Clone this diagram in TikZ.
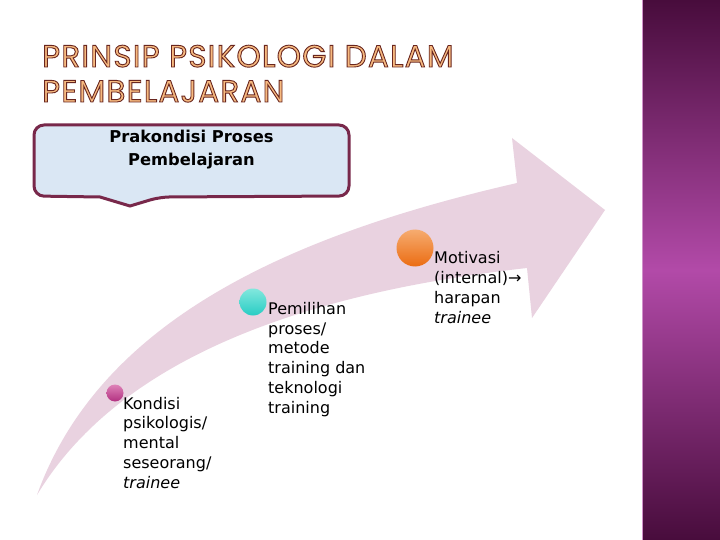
\documentclass[tikz,border=0pt]{standalone}
\usepackage{fontspec}
\setmainfont{DejaVu Sans}
\newfontfamily\titlefont[LetterSpace=4]{Poppins}
\definecolor{band}{RGB}{233,210,224}
\definecolor{boxedge}{RGB}{120,40,74}
\definecolor{boxfill}{RGB}{218,231,244}
\definecolor{titlefill}{RGB}{247,186,128}
\definecolor{paneldark}{RGB}{72,12,60}
\definecolor{panelmid}{RGB}{178,74,168}
\newcommand{\outlinedtext}[1]{\special{pdf:literal direct 0.41 0.15 0.12 RG 0.9 w 2 Tr}#1\special{pdf:literal direct 0 Tr}}
\tikzset{
  bodytext/.style={inner sep=0pt, anchor=base west, align=left,
    font=\fontsize{16}{19.7}\selectfont},
  titletext/.style={inner sep=0pt, anchor=base west, text=titlefill,
    font=\titlefont\fontsize{31}{36}\selectfont},
  dot/.style={circle, inner sep=0pt},
}
\begin{document}
\begin{tikzpicture}[x=1pt,y=-1pt]
\path[use as bounding box, fill=white] (0,0) rectangle (720,540);
% right panel
\shade[top color=paneldark, bottom color=paneldark, middle color=panelmid] (642,0) rectangle (720,540);
\draw[panelmid!60!white, line width=0.6pt] (642.5,0) -- (642.5,540);
% title
\node[titletext] (title1) at (42,67) {\outlinedtext{PRINSIP PSIKOLOGI DALAM}};
\node[titletext] (title2) at (42,102) {\outlinedtext{PEMBELAJARAN}};
% curved arrow
\fill[band] (37,495) .. controls (100,320) and (290,235) .. (517,183)
  -- (512,138) -- (605,210) -- (532,318) -- (527,268)
  .. controls (240,300) and (100,390) .. (37,495) -- cycle;
% callout box
\draw[boxedge, fill=boxfill, line width=3pt, rounded corners=10pt]
  (34,160) -- (34,125) -- (349,125) -- (349,196) -- (160,197)
  [sharp corners] -- (130,206) -- (100,197) [rounded corners=10pt] -- (34,196) -- cycle;
\node[inner sep=0pt, align=center, font=\bfseries\fontsize{16.3}{23}\selectfont, anchor=base]
  (box) at (191.5,166) {Prakondisi Proses\\Pembelajaran};
% dots
\shade[top color={rgb,255:red,222;green,130;blue,184}, bottom color={rgb,255:red,178;green,48;blue,128}]
  (115,393) circle (8.5);
\node[dot, minimum size=17pt] (c1) at (115,393) {};
\shade[top color={rgb,255:red,130;green,232;blue,222}, bottom color={rgb,255:red,40;green,205;blue,195}]
  (253,302) circle (13.5);
\node[dot, minimum size=27pt] (c2) at (253,302) {};
\shade[top color={rgb,255:red,246;green,172;blue,112}, bottom color={rgb,255:red,235;green,108;blue,18}]
  (415,248) circle (18.5);
\node[dot, minimum size=37pt] (c3) at (415,248) {};
% texts
\node[bodytext] (t1) at (123,488) {Kondisi\\psikologis/\\mental\\seseorang/\\\textit{trainee}};
\node[bodytext] (t2) at (268,413) {Pemilihan\\proses/\\metode\\training dan\\teknologi\\training};
\node[bodytext] (t3) at (434,323) {Motivasi\\(internal)→\\harapan\\\textit{trainee}};
\end{tikzpicture}
\end{document}
